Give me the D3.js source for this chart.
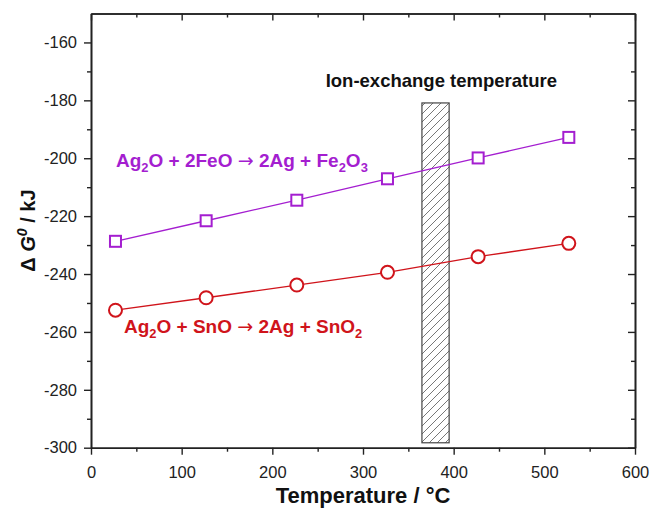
<!DOCTYPE html>
<html>
<head>
<meta charset="utf-8">
<script src="https://cdn.jsdelivr.net/npm/d3@7"></script>
<style>
  body { margin: 0; background: #fff; }
  svg { font-family: "Liberation Sans", Arial, sans-serif; }
</style>
</head>
<body>
<div id="chart"></div>
<script>
const temps = [27, 127, 227, 327, 427, 527];
const feoValues = [-228.7, -221.6, -214.5, -207.1, -199.9, -192.8];
const snoValues = [-252.5, -248.2, -243.8, -239.4, -234.0, -229.4];
const ionBand = { x0: 365, x1: 395, y0: -298.3, y1: -180.9 };
const xTicks = [0, 100, 200, 300, 400, 500, 600];
const yTicks = [-300, -280, -260, -240, -220, -200, -180, -160];

const width = 651;
const height = 510;
const margin = { top: 13.5, right: 16, bottom: 63, left: 91 };

const purple = "#a41ed0";
const red = "#d0141b";

const svg = d3.select("#chart")
  .append("svg")
  .attr("width", width)
  .attr("height", height);

const x = d3.scaleLinear()
  .domain([0, 600])
  .range([margin.left, width - margin.right]);

const y = d3.scaleLinear()
  .domain([-300, -150])
  .range([height - margin.bottom + 0.7, margin.top]);

// hatch pattern
const hs = 8;
const defs = svg.append("defs");
const pat = defs.append("pattern")
  .attr("id", "hatch")
  .attr("patternUnits", "userSpaceOnUse")
  .attr("width", hs)
  .attr("height", hs);
pat.append("rect").attr("width", hs).attr("height", hs).attr("fill", "#fff");
pat.append("path")
  .attr("d", `M0,${hs} L${hs},0 M-2,2 L2,-2 M${hs - 2},${hs + 2} L${hs + 2},${hs - 2}`)
  .attr("stroke", "#555")
  .attr("stroke-width", 0.8);

svg.append("rect")
  .attr("x", x(ionBand.x0))
  .attr("y", y(ionBand.y1))
  .attr("width", x(ionBand.x1) - x(ionBand.x0))
  .attr("height", y(ionBand.y0) - y(ionBand.y1))
  .attr("fill", "url(#hatch)")
  .attr("stroke", "#444")
  .attr("stroke-width", 1.2);

svg.append("text")
  .attr("x", 557)
  .attr("y", 86.5)
  .attr("text-anchor", "end")
  .attr("font-size", 18.5)
  .attr("font-weight", "bold")
  .attr("fill", "#111")
  .text("Ion-exchange temperature");

// axes
const xMinor = d3.range(50, 600, 100);
const yMinor = d3.range(-290, -150, 20);

function styleAxis(g) {
  g.selectAll("path.domain").attr("stroke", "#222").attr("stroke-width", 1.6);
  g.selectAll(".tick line").attr("stroke", "#222").attr("stroke-width", 1.4);
  g.selectAll(".tick text").attr("font-size", 16.5).attr("fill", "#222");
}

const fmt = d => String(d);

svg.append("g")
  .attr("transform", `translate(0,${y(-300)})`)
  .call(d3.axisBottom(x).tickValues(xTicks).tickSize(7).tickPadding(12).tickFormat(fmt).tickSizeOuter(0))
  .call(styleAxis);
svg.append("g")
  .attr("transform", `translate(0,${y(-300)})`)
  .call(d3.axisBottom(x).tickValues(xMinor).tickSize(4).tickFormat("").tickSizeOuter(0))
  .call(styleAxis);

svg.append("g")
  .attr("transform", `translate(${x(0)},0)`)
  .call(d3.axisLeft(y).tickValues(yTicks).tickSize(7).tickPadding(7).tickFormat(fmt).tickSizeOuter(0))
  .call(styleAxis);
svg.append("g")
  .attr("transform", `translate(${x(0)},0)`)
  .call(d3.axisLeft(y).tickValues(yMinor).tickSize(4).tickFormat("").tickSizeOuter(0))
  .call(styleAxis);

// top & right mirrored ticks, inward
svg.append("g")
  .attr("transform", `translate(0,${y(-150)})`)
  .call(d3.axisBottom(x).tickValues(xTicks).tickSize(7).tickFormat("").tickSizeOuter(0))
  .call(styleAxis);
svg.append("g")
  .attr("transform", `translate(0,${y(-150)})`)
  .call(d3.axisBottom(x).tickValues(xMinor).tickSize(4).tickFormat("").tickSizeOuter(0))
  .call(styleAxis);
svg.append("g")
  .attr("transform", `translate(${x(600)},0)`)
  .call(d3.axisLeft(y).tickValues(yTicks).tickSize(7).tickFormat("").tickSizeOuter(0))
  .call(styleAxis);
svg.append("g")
  .attr("transform", `translate(${x(600)},0)`)
  .call(d3.axisLeft(y).tickValues(yMinor).tickSize(4).tickFormat("").tickSizeOuter(0))
  .call(styleAxis);

// series
const line = d3.line().x(d => x(d[0])).y(d => y(d[1]));
const feo = temps.map((t, i) => [t, feoValues[i]]);
const sno = temps.map((t, i) => [t, snoValues[i]]);

svg.append("path").datum(feo).attr("d", line)
  .attr("fill", "none").attr("stroke", purple).attr("stroke-width", 1.3);
svg.append("path").datum(sno).attr("d", line)
  .attr("fill", "none").attr("stroke", red).attr("stroke-width", 1.3);

const sq = 11;
svg.append("g").selectAll("rect").data(feo).join("rect")
  .attr("x", d => x(d[0]) - sq / 2)
  .attr("y", d => y(d[1]) - sq / 2)
  .attr("width", sq).attr("height", sq)
  .attr("fill", "#fff").attr("stroke", purple).attr("stroke-width", 2);

svg.append("g").selectAll("circle").data(sno).join("circle")
  .attr("cx", d => x(d[0]))
  .attr("cy", d => y(d[1]))
  .attr("r", 6.5)
  .attr("fill", "#fff").attr("stroke", red).attr("stroke-width", 2);

// labels with sub/superscripts
function chem(t, parts, color, size) {
  t.attr("font-size", size).attr("font-weight", "bold").attr("fill", color);
  let shifted = false;
  parts.forEach(p => {
    if (p.sub) {
      t.append("tspan").attr("dy", 5).attr("font-size", size * 0.68).text(p.sub);
      shifted = true;
    } else {
      const s = t.append("tspan").text(p.t);
      if (shifted) { s.attr("dy", -5); shifted = false; }
      if (p.arrow) s.attr("font-family", "DejaVu Sans").attr("font-weight", "normal");
    }
  });
}

chem(svg.append("text").attr("x", 116).attr("y", 166.5), [
  { t: "Ag" }, { sub: "2" }, { t: "O + 2FeO " }, { t: "\u2192", arrow: true }, { t: " 2Ag + Fe" },
  { sub: "2" }, { t: "O" }, { sub: "3" }
], purple, 19);

chem(svg.append("text").attr("x", 124).attr("y", 333), [
  { t: "Ag" }, { sub: "2" }, { t: "O + SnO " }, { t: "\u2192", arrow: true }, { t: " 2Ag + SnO" }, { sub: "2" }
], red, 19);

// axis titles
svg.append("text")
  .attr("x", (x(0) + x(600)) / 2)
  .attr("y", 503)
  .attr("text-anchor", "middle")
  .attr("font-size", 22)
  .attr("font-weight", "bold")
  .attr("fill", "#111")
  .text("Temperature / \u00b0C");

const yl = svg.append("text")
  .attr("transform", `translate(35,${y(-225)}) rotate(-90)`)
  .attr("text-anchor", "middle")
  .attr("font-size", 20)
  .attr("font-weight", "bold")
  .attr("fill", "#111");
yl.append("tspan").text("\u0394 ");
yl.append("tspan").attr("font-style", "italic").text("G");
yl.append("tspan").attr("font-style", "italic").attr("font-size", 14).attr("dy", -8).text("0");
yl.append("tspan").attr("dy", 8).text(" / kJ");
</script>
</body>
</html>
